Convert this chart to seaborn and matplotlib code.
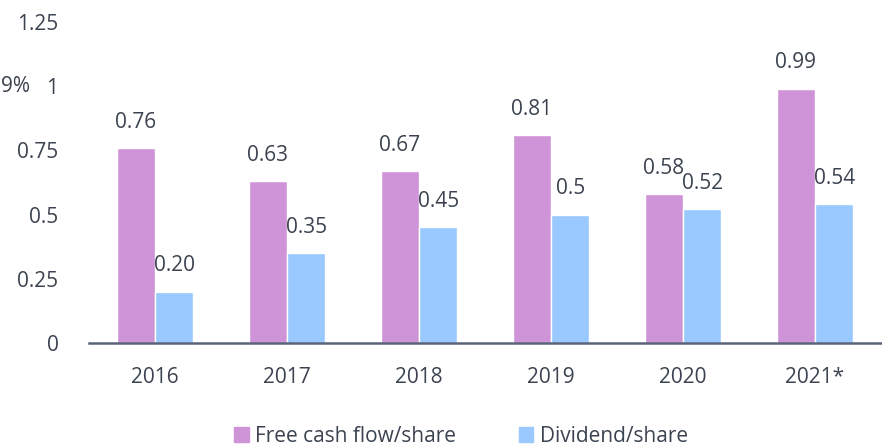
import pandas as pd
import matplotlib
matplotlib.use("Agg")
import matplotlib.pyplot as plt
import seaborn as sns

years = ["2016", "2017", "2018", "2019", "2020", "2021*"]
fcf = [0.76, 0.63, 0.67, 0.81, 0.58, 0.99]
dividend = [0.20, 0.35, 0.45, 0.50, 0.52, 0.54]
fcf_labels = ["0.76", "0.63", "0.67", "0.81", "0.58", "0.99"]
div_labels = ["0.20", "0.35", "0.45", "0.5", "0.52", "0.54"]
series = ["Free cash flow/share", "Dividend/share"]
y_ticks = [0, 0.25, 0.5, 0.75, 1, 1.25]
y_tick_labels = ["0", "0.25", "0.5", "0.75", "1", "1.25"]

df = pd.DataFrame({
    "year": years * 2,
    "value": fcf + dividend,
    "series": [series[0]] * len(years) + [series[1]] * len(years),
})

sns.set_style("white")
plt.rcParams["font.family"] = ["Open Sans", "DejaVu Sans"]
text_color = "#3b4350"
fs = 15

fig = plt.figure(figsize=(8.82, 4.47), dpi=100)
ax = fig.add_axes([0.1009, 0.2327, 0.898, 0.7181])

sns.barplot(data=df, x="year", y="value", hue="series",
            palette=["#cf93d7", "#99c9ff"], width=0.58, saturation=1,
            ax=ax, legend=False)

for cont, labs in zip(ax.containers, [fcf_labels, div_labels]):
    ax.bar_label(cont, labels=labs, padding=11, fontsize=fs, color=text_color)

ax.set_xlim(-0.5, 5.5)
ax.set_ylim(0, 1.25)
ax.set_yticks(y_ticks)
ax.set_yticklabels(y_tick_labels)
ax.set_xlabel("")
ax.set_ylabel("")
ax.tick_params(axis="both", length=0, labelsize=fs, colors=text_color)
ax.tick_params(axis="x", pad=17)
ax.tick_params(axis="y", pad=22)
for s in ["top", "right", "left"]:
    ax.spines[s].set_visible(False)
ax.spines["bottom"].set_color("#5a6478")
ax.spines["bottom"].set_linewidth(1.8)

fig.text(1 / 882, 1 - 86 / 447, "9%", ha="left", va="center",
         fontsize=fs, color=text_color)

handles = [plt.Rectangle((0, 0), 1, 1, color=c) for c in ["#cf93d7", "#99c9ff"]]
leg = fig.legend(handles, series, loc="center", bbox_to_anchor=(461 / 882, 1 - 436 / 447),
                 ncol=2, frameon=False, fontsize=fs, handlelength=0.7,
                 handleheight=0.7, handletextpad=0.3, columnspacing=3.0)
for t in leg.get_texts():
    t.set_color(text_color)

fig.savefig("out.png", dpi=100)
